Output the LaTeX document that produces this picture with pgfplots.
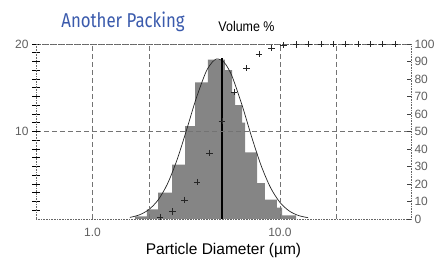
\documentclass[border=0pt]{standalone}
\usepackage{pgfplots}
\pgfplotsset{compat=1.18}
\usepackage{fontspec}
\setmainfont{Liberation Sans}
\newfontfamily\titlefont{Fira Sans}
\usepackage{graphicx}
\definecolor{titleblue}{RGB}{58,90,172}
\definecolor{tickgray}{RGB}{95,95,95}
\begin{document}
\begin{tikzpicture}
\begin{axis}[
  at={(36pt,40pt)}, anchor=south west,
  scale only axis, width=375pt, height=175pt,
  xmode=log, xmin=0.5, xmax=50,
  ymin=0, ymax=20,
  xtick={1,2,10,20}, xticklabels={1.0,,10.0,},
  xminorticks=false,
  ytick={10,20}, minor ytick={1,2,...,19},
  ytick pos=left,
  xtick pos=bottom,
  tick align=center,
  major tick length=8pt, minor tick length=8pt,
  tick style={black, line width=0.5pt},
  major x tick style={draw=none},
  xmajorgrids, ymajorgrids,
  major grid style={black!55, dash pattern=on 5pt off 3pt, line width=0.5pt},
  axis line style={black!60, densely dotted, line width=0.6pt},
  axis on top,
  /pgf/number format/assume math mode=true,
  ticklabel style={font=\fontsize{12}{12}\selectfont, text=tickgray},
  x tick label style={yshift=-2pt},
  clip=false,
]
% histogram (left edges, last point closes the final bin)
\addplot[draw=none, fill=black!48, const plot mark left] coordinates {
  (1.687,0.3)(1.954,1.1)(2.239,3.0)(2.661,6.2)(3.119,10.6)(3.524,15.6)
  (4.130,18.2)(5.093,17.0)(5.559,14.5)(5.768,13.0)(6.281,11.0)(6.516,7.6)
  (7.551,4.1)(8.318,2.2)(9.638,1.3)(10.26,0.4)(12.19,0.4)
} \closedcycle;
% fitted curve
\addplot[black!85, line width=0.7pt, smooth, tension=0.5] coordinates {
  (1.585,0.18)(1.778,0.47)(1.995,1.06)(2.239,2.17)(2.512,4.01)(2.818,6.69)
  (3.162,10.03)(3.548,13.56)(3.981,16.53)(4.217,17.54)(4.467,18.15)(4.677,18.3)
  (5.012,17.96)(5.309,17.18)(5.623,16.02)(6.310,12.87)(7.079,9.32)(7.943,6.09)
  (8.913,3.58)(10,1.90)(11.22,0.91)(12.59,0.39)(14.13,0.15)
};
% median line
\addplot[black, line width=1.3pt] coordinates {(4.91,0)(4.91,18.4)};
\end{axis}
\begin{axis}[
  at={(36pt,40pt)}, anchor=south west,
  scale only axis, width=375pt, height=175pt,
  xmode=log, xmin=0.5, xmax=50,
  ymin=0, ymax=100,
  xtick=\empty, xminorticks=false,
  ytick={0,10,...,100},
  ytick pos=right, yticklabel pos=right,
  tick align=inside, major tick length=4pt,
  tick style={black!75, line width=0.5pt},
  axis line style={draw=none},
  /pgf/number format/assume math mode=true,
  ticklabel style={font=\fontsize{12}{12}\selectfont, text=tickgray},
  y tick label style={xshift=0pt},
  clip=false,
]
\addplot[only marks, mark=+, mark size=3.2pt, black!85, line width=0.5pt] coordinates {
  (2.291,1.1)(2.667,4.3)(3.105,10.9)(3.614,21.1)(4.207,37.7)(4.898,56.0)
  (5.702,72.6)(6.637,86.3)(7.727,94.3)(8.995,97.7)(10.47,99.4)(12.19,99.8)
  (14.19,100)(16.52,100)(19.23,100)(22.39,100)(26.06,100)(30.34,100)
  (35.32,100)(41.11,100)
};
\end{axis}
\node[anchor=base, text=titleblue, inner sep=0pt] at (123pt,231pt)
  {\scalebox{0.84}[1]{\titlefont\fontsize{20}{20}\selectfont Another Packing}};
\node[anchor=base, inner sep=0pt] at (246.5pt,227pt)
  {\scalebox{0.89}[1]{\fontsize{14}{14}\selectfont Volume \%}};
\node[anchor=base, inner sep=0pt] at (223.5pt,4pt)
  {\fontsize{15.5}{15.5}\selectfont Particle Diameter (µm)};
\pgfresetboundingbox
\useasboundingbox (0,0) rectangle (437pt,259pt);
\end{tikzpicture}
\end{document}
